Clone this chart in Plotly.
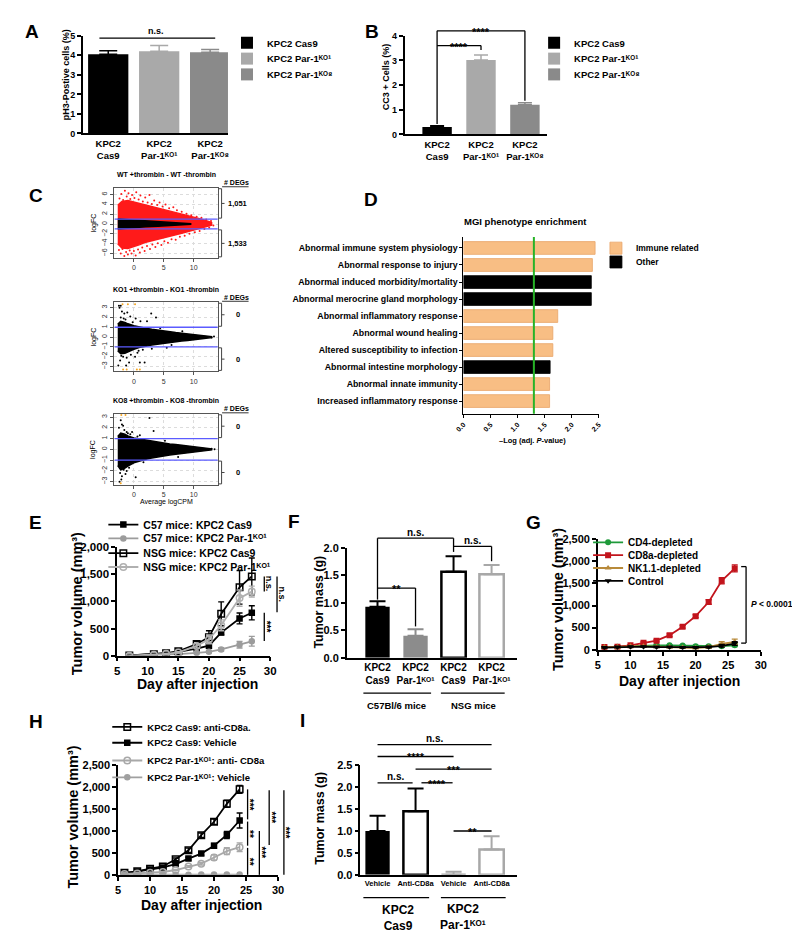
import plotly.graph_objects as go

W, H = 800, 937
FONT = "Liberation Sans, Arial, Helvetica, DejaVu Sans, sans-serif"
KO1 = "Par-1\u1d37\u1d3c\u00b9"
KO8 = "Par-1\u1d37\u1d3c\u2078"
MM3 = "Tumor volume (mm\u00b3)"

# ======================= DATA =======================
# Panel A / B
AB_ticktext = ["KPC2<br>Cas9", "KPC2<br>" + KO1, "KPC2<br>" + KO8]
AB_names = ["KPC2 Cas9", "KPC2 " + KO1, "KPC2 " + KO8]
AB_cats = [0, 1, 2]
A_vals = [4.05, 4.20, 4.15]
A_errs = [0.18, 0.30, 0.15]
B_vals = [0.30, 3.02, 1.20]
B_errs = [0.05, 0.20, 0.08]

# Panel C (MA plots)
C_titles = ["WT +thrombin - WT -thrombin", "KO1 +thrombin - KO1 -thrombin", "KO8 +thrombin - KO8 -thrombin"]
C_deg_up = ["1,051", "0", "0"]
C_deg_down = ["1,533", "0", "0"]
C_FC_THRESHOLD = 1.0
C1_red_x = [-2.7, -2, -1, 0, 1, 2, 3, 4, 5, 6, 7, 8, 9, 10, 11, 12, 13]
C1_red_up = [3.8, 4.6, 4.8, 4.5, 4.1, 3.8, 3.5, 3.2, 2.9, 2.6, 2.3, 2.0, 1.7, 1.4, 1.1, 0.7, 0.3]
C1_red_lo = [-4.0, -4.9, -5.0, -4.6, -4.2, -3.7, -3.4, -3.1, -2.8, -2.5, -2.2, -1.9, -1.6, -1.3, -1.0, -0.6, -0.25]
C1_core_x = [-2.7, -2, -1, 0, 2, 4, 6, 8, 9.5]
C1_core_up = [1.0, 0.95, 0.8, 0.7, 0.55, 0.45, 0.35, 0.2, 0.05]
C1_core_lo = [-1.0, -0.95, -0.85, -0.7, -0.55, -0.45, -0.35, -0.2, -0.05]
C1_pts_x = [-2.4, -2.1, -1.8, -1.5, -1.2, -0.9, -0.6, -0.3, 0.1, 0.4, 0.8, 1.1, 1.5, 1.9, 2.3, 2.6,
            3.0, 3.4, 3.9, 4.3, 4.8, 5.3, 5.9, 6.6, 7.2, 8.0, 8.8, 9.6, 10.5, 11.3, 12.1, 12.9,
            -2.5, -2.2, -1.9, -1.6, -1.3, -1.0, -0.7, -0.4, 0.0, 0.3, 0.7, 1.0, 1.4, 1.8, 2.2, 2.7,
            3.1, 3.6, 4.0, 4.6, 5.1, 5.7, 6.3, 7.0, 7.7, 8.5, 9.3, 10.2, 11.0, 11.8, 12.6, 13.3]
C1_pts_y = [5.2, 6.1, 4.9, 6.8, 5.6, 6.3, 5.1, 5.9, 5.3, 6.5, 5.0, 5.8, 4.6, 5.4, 4.4, 5.9,
            4.1, 4.8, 3.9, 4.4, 3.6, 4.0, 3.2, 3.4, 2.8, 2.5, 2.1, 1.8, 1.5, 1.3, 0.9, 0.6,
            -5.3, -6.0, -5.1, -6.5, -5.7, -6.2, -5.4, -6.0, -5.5, -6.4, -5.2, -5.8, -4.8, -5.5, -4.5, -5.1,
            -4.2, -4.7, -3.9, -4.3, -3.5, -3.8, -3.1, -3.2, -2.6, -2.4, -2.0, -1.7, -1.4, -1.0, -0.7, -0.3]
C2_x = [-2.7, -2.2, -1.5, -1, 0, 1, 2, 3, 4, 5, 6, 7, 8, 9, 10, 11, 12, 13]
C2_up = [1.3, 1.6, 1.5, 1.35, 1.15, 1.0, 0.9, 0.8, 0.7, 0.6, 0.52, 0.46, 0.4, 0.34, 0.28, 0.22, 0.14, 0.05]
C2_lo = [-1.4, -1.7, -1.65, -1.5, -1.25, -1.05, -0.95, -0.82, -0.72, -0.62, -0.55, -0.48, -0.41, -0.35,
         -0.28, -0.22, -0.14, -0.05]
C2_pts_x = [-2.4, -2.0, -1.6, -1.1, -0.6, -2.2, 0.3, 1.1, 2.2, 2.9, 3.7, -2.3, -1.8, -1.2, -0.5,
            0.2, -2.1, 1.0, 1.8, -0.8, 3.0, 5.5, 13.4, 13.0, -1.4, 0.8, -2.5, -2.2, -1.7, -0.2,
            0.6, 1.5, -2.6, -1.3, 4.4, 6.3, 8.1]
C2_pts_y = [3.0, 2.6, 2.4, 2.5, 2.1, 2.0, 1.9, 1.6, 1.6, 2.4, 2.0, -2.4, -2.0, -2.1, -1.8,
            -2.0, -1.9, -2.6, -2.6, -2.6, -1.2, -1.1, 0.05, -0.05, 1.8, -1.4, 3.2, 3.2, 1.9, 1.5,
            -1.6, -1.3, -2.9, -2.9, 0.9, -0.8, 0.6]
C2_or_x = [-1.9, -1.0, 0.2, -1.8, -1.2, 0.5, 1.0]
C2_or_y = [3.35, 3.35, 3.35, -3.3, -3.3, -3.3, -3.3]
C3_x = [-2.7, -2.2, -1.5, -1, 0, 1, 2, 3, 4, 5, 6, 7, 8, 9, 10, 11, 12, 13]
C3_up = [1.2, 1.5, 1.4, 1.25, 1.05, 0.95, 0.85, 0.75, 0.66, 0.58, 0.5, 0.44, 0.38, 0.32, 0.26, 0.2, 0.13, 0.05]
C3_lo = [-1.5, -1.9, -1.75, -1.55, -1.25, -1.05, -0.92, -0.8, -0.7, -0.6, -0.52, -0.46, -0.4, -0.33,
         -0.27, -0.2, -0.13, -0.05]
C3_pts_x = [-2.2, -2.0, -1.6, -1.2, -0.6, 2.6, 3.3, 1.0, -2.3, -2.0, -1.7, -1.2, -0.8, -2.4, 0.3,
            13.0, 13.5, -1.0, 0.6, -2.5, -1.8, -0.3, 1.6, -2.1, -1.4, 5.2, 7.4]
C3_pts_y = [2.7, 2.3, 1.8, 1.6, 1.4, 2.9, 1.7, 1.3, -2.2, -2.5, -1.9, -2.0, -1.7, -3.0, -2.6,
            0.05, 0.0, 1.5, 1.2, 2.0, 2.2, 1.6, -1.2, -2.8, -2.3, 0.8, -0.7]
C3_or_x = [-2.1, -1.4, -2.2]
C3_or_y = [3.2, 3.2, -3.15]

# Panel D
D_terms = ["Abnormal immune system physiology", "Abnormal response to injury",
           "Abnormal induced morbidity/mortality", "Abnormal merocrine gland morphology",
           "Abnormal inflammatory response", "Abnormal wound healing",
           "Altered susceptibility to infection", "Abnormal intestine morphology",
           "Abnormal innate immunity", "Increased inflammatory response"]
D_vals = [2.43, 2.38, 2.36, 2.36, 1.74, 1.65, 1.65, 1.60, 1.59, 1.59]
D_group = ["Immune related", "Immune related", "Other", "Other", "Immune related",
           "Immune related", "Immune related", "Other", "Immune related", "Immune related"]
D_THRESHOLD = 1.3

# Panel E
E_days = [7, 11, 13, 15, 18, 20, 22, 25, 27]
E_c57_cas9 = [5, 20, 40, 70, 130, 185, 425, 685, 790]
E_c57_cas9_err = [3, 5, 8, 10, 20, 30, 40, 100, 130]
E_c57_par1 = [0, 10, 20, 30, 50, 70, 115, 200, 265]
E_c57_par1_err = [2, 4, 6, 8, 12, 15, 30, 60, 90]
E_nsg_cas9 = [5, 25, 45, 80, 215, 340, 770, 1260, 1460]
E_nsg_cas9_err = [3, 6, 10, 15, 50, 120, 220, 310, 340]
E_nsg_par1 = [0, 15, 35, 60, 180, 300, 560, 1060, 1180]
E_nsg_par1_err = [2, 5, 8, 12, 40, 80, 100, 150, 100]
E_names = ["C57 mice: KPC2 Cas9", "C57 mice: KPC2 " + KO1,
           "NSG mice: KPC2 Cas9", "NSG mice: KPC2 " + KO1]

# Panel F
F_ticktext = ["KPC2<br>Cas9", "KPC2<br>" + KO1, "KPC2<br>Cas9", "KPC2<br>" + KO1]
F_vals = [0.93, 0.40, 1.57, 1.52]
F_errs = [0.10, 0.12, 0.28, 0.17]
F_groups = ["C57Bl/6 mice", "NSG mice"]

# Panel G
G_days = [6, 8, 10, 12, 14, 16, 18, 20, 22, 24, 26]
G_cd4 = [60, 70, 90, 100, 100, 100, 95, 80, 80, 80, 100]
G_cd4_err = [10, 10, 10, 15, 15, 15, 15, 15, 15, 20, 30]
G_cd8 = [60, 70, 100, 160, 205, 330, 520, 760, 1080, 1560, 1840]
G_cd8_err = [10, 10, 15, 20, 25, 30, 30, 30, 50, 70, 80]
G_nk = [60, 60, 80, 80, 70, 60, 50, 40, 60, 130, 180]
G_nk_err = [10, 10, 10, 10, 10, 10, 10, 10, 20, 50, 60]
G_ctrl = [50, 60, 70, 70, 60, 60, 50, 50, 60, 90, 140]
G_ctrl_err = [10, 10, 10, 10, 10, 10, 10, 10, 15, 30, 40]
G_names = ["CD4-depleted", "CD8a-depleted", "NK1.1-depleted", "Control"]

# Panel H
H_days = [6, 8, 10, 12, 14, 16, 18, 20, 22, 24]
H_cas9_cd8 = [45, 80, 140, 190, 355, 560, 905, 1210, 1620, 1950]
H_cas9_cd8_err = [10, 10, 15, 20, 30, 50, 50, 60, 80, 90]
H_cas9_veh = [40, 75, 120, 170, 245, 370, 485, 665, 910, 1240]
H_cas9_veh_err = [10, 10, 15, 20, 25, 30, 40, 50, 80, 170]
H_par1_cd8 = [20, 30, 45, 65, 110, 190, 255, 395, 540, 630]
H_par1_cd8_err = [5, 5, 10, 10, 15, 20, 30, 60, 80, 100]
H_par1_veh = [2, 2, 3, 3, 4, 4, 5, 5, 5, 6]
H_par1_veh_err = [1, 1, 1, 1, 1, 1, 1, 1, 1, 2]
H_names = ["KPC2 Cas9: anti-CD8a.", "KPC2 Cas9: Vehicle",
           "KPC2 " + KO1 + ": anti- CD8a", "KPC2 " + KO1 + ": Vehicle"]

# Panel I
I_ticktext = ["Vehicle", "Anti-CD8a", "Vehicle", "Anti-CD8a"]
I_vals = [1.00, 1.45, 0.00, 0.58]
I_errs = [0.35, 0.52, 0.07, 0.30]
I_groups = ["KPC2<br>Cas9", "KPC2<br>" + KO1]

# ======================= HELPERS =======================
fig = go.Figure()
shapes, annotations, axes, legends = [], [], {}, {}


def PX(x):
    return x / W


def PY(y):
    return 1 - y / H


def lin(d0, d1, p0, p1):
    return lambda v: p0 + (v - d0) * (p1 - p0) / (d1 - d0)


def seg(x0, y0, x1, y1, color="black", width=1.3):
    shapes.append(dict(type="line", xref="paper", yref="paper", x0=PX(x0), y0=PY(y0),
                       x1=PX(x1), y1=PY(y1), line=dict(color=color, width=width), layer="above"))


def txt(x, y, s, size=10, angle=0, xa="center", ya="middle", color="black", bold=True):
    annotations.append(dict(x=PX(x), y=PY(y), xref="paper", yref="paper", text=s, showarrow=False,
                            textangle=angle, xanchor=xa, yanchor=ya,
                            font=dict(size=size, color=color, family=FONT,
                                      weight="bold" if bold else "normal")))


def names(i):
    return ("x" if i == 1 else f"x{i}", "y" if i == 1 else f"y{i}")


def set_axes(i, xdom, ydom, xkw, ykw):
    xn, yn = names(i)
    axes["xaxis" if i == 1 else f"xaxis{i}"] = dict(domain=[PX(xdom[0]), PX(xdom[1])], anchor=yn, **xkw)
    axes["yaxis" if i == 1 else f"yaxis{i}"] = dict(domain=[PY(ydom[1]), PY(ydom[0])], anchor=xn, **ykw)


def gp_axis(size, **kw):
    d = dict(showline=True, linecolor="black", linewidth=1.5, ticks="outside", ticklen=4, tickwidth=1.5,
             tickcolor="black", showgrid=False, zeroline=False, fixedrange=True,
             tickfont=dict(family=FONT, size=size, color="black", weight="bold"))
    d.update(kw)
    return d


def ma_axis(**kw):
    d = dict(showline=True, mirror=True, linecolor="#555", linewidth=1, ticks="outside", ticklen=3,
             tickwidth=0.8, tickcolor="#555", showgrid=True, gridcolor="#dcdcdc", griddash="dot",
             gridwidth=0.8, zeroline=False, fixedrange=True,
             tickfont=dict(family=FONT, size=7, color="#333", weight="normal"))
    d.update(kw)
    return d


def new_legend(x_text, center, size):
    k = len(legends) + 1
    key = "legend" if k == 1 else f"legend{k}"
    legends[key] = dict(x=PX(x_text - 40), y=PY(center - 14.5), xanchor="left", yanchor="top",
                        bgcolor="rgba(0,0,0,0)", borderwidth=0, tracegroupgap=0, itemwidth=30,
                        font=dict(family=FONT, size=size, color="black", weight="bold"))
    return key


# ======================= PANEL A =======================
AB_colors = ["#000000", "#a9a9a9", "#8a8a8a"]
AB_leg_rows = [29, 45, 61]
for i in AB_cats:
    fig.add_trace(go.Bar(x=[i], y=[A_vals[i]], width=0.79, name=AB_names[i],
                         legend=new_legend(254, AB_leg_rows[i], 9.5),
                         marker=dict(color=AB_colors[i], line=dict(width=0)),
                         error_y=dict(type="data", symmetric=False, array=[A_errs[i]], arrayminus=[0],
                                      color=AB_colors[i], thickness=1.5, width=9),
                         xaxis="x", yaxis="y"))
set_axes(1, (67, 215), (22, 121),
         gp_axis(9.5, range=[-0.5, 2.35], tickvals=AB_cats, ticktext=AB_ticktext, ticks=""),
         gp_axis(9, range=[0, 5], dtick=1, tick0=0))
vyA = lin(0, 5, 121, 22)
seg(84, vyA(4.88), 202, vyA(4.88))
txt(142, vyA(4.88) - 7, "n.s.", 9)
txt(50, 62, "pH3-Postive cells (%)", 9, -90)

# ======================= PANEL B =======================
for i in AB_cats:
    fig.add_trace(go.Bar(x=[i], y=[B_vals[i]], width=0.67, name=AB_names[i],
                         legend=new_legend(567, AB_leg_rows[i], 9.5),
                         marker=dict(color=AB_colors[i], line=dict(width=0)),
                         error_y=dict(type="data", symmetric=False, array=[B_errs[i]], arrayminus=[0],
                                      color=AB_colors[i], thickness=1.5, width=7),
                         xaxis="x2", yaxis="y2"))
set_axes(2, (395, 540), (22, 122),
         gp_axis(9.5, range=[-0.74, 2.5], tickvals=AB_cats, ticktext=AB_ticktext, ticks=""),
         gp_axis(9, range=[0, 4], dtick=1, tick0=0))
vyB = lin(0, 4, 122, 22)
cxB = lin(-0.74, 2.5, 395, 540)
seg(cxB(0), vyB(0.42), cxB(0), vyB(4.2))
seg(cxB(0), vyB(3.6), cxB(1), vyB(3.6))
seg(cxB(1), vyB(3.6), cxB(1), vyB(3.42))
seg(cxB(0), vyB(4.2), cxB(2), vyB(4.2))
seg(cxB(2), vyB(4.2), cxB(2), vyB(1.36))
txt((cxB(0) + cxB(1)) / 2, vyB(3.6) + 1, "****", 11)
txt((cxB(0) + cxB(2)) / 2, vyB(4.2) + 1, "****", 11)
txt(376, 64, "CC3 + Cells (%)", 9, -90)

# ======================= PANEL C =======================
C_panels = [
    dict(top=176, bottom=247, yr=[-6.9, 7.4], yt=[-6, -4, -2, 0, 2, 4, 6]),
    dict(top=292, bottom=362, yr=[-3.5, 3.55], yt=[-3, -2, -1, 0, 1, 2, 3]),
    dict(top=405, bottom=477, yr=[-3.3, 3.3], yt=[-3, -2, -1, 0, 1, 2, 3]),
]
C_XR = [-3.3, 14.1]


def env(xs, up, lo):
    return xs + xs[::-1], up + lo[::-1]


C_layers = [
    [("#ff1a1a", C1_red_x, C1_red_up, C1_red_lo), ("#000000", C1_core_x, C1_core_up, C1_core_lo)],
    [("#000000", C2_x, C2_up, C2_lo)],
    [("#000000", C3_x, C3_up, C3_lo)],
]
C_points = [
    [("#ff1a1a", C1_pts_x, C1_pts_y)],
    [("#000000", C2_pts_x, C2_pts_y), ("#f5a623", C2_or_x, C2_or_y)],
    [("#000000", C3_pts_x, C3_pts_y), ("#f5a623", C3_or_x, C3_or_y)],
]
for p, cfg in enumerate(C_panels):
    ai = 3 + p
    xn, yn = names(ai)
    for col, xs, up, lo in C_layers[p]:
        ex, ey = env(xs, up, lo)
        fig.add_trace(go.Scatter(x=ex, y=ey, mode="lines", fill="toself", fillcolor=col,
                                 line=dict(color=col, width=1.5),
                                 showlegend=False, hoverinfo="skip", xaxis=xn, yaxis=yn))
    for col, xs, ys in C_points[p]:
        fig.add_trace(go.Scatter(x=xs, y=ys, mode="markers", marker=dict(color=col, size=2),
                                 showlegend=False, hoverinfo="skip", xaxis=xn, yaxis=yn))
    set_axes(ai, (99, 205), (cfg["top"], cfg["bottom"]),
             ma_axis(range=C_XR, tickvals=[0, 5, 10]),
             ma_axis(range=cfg["yr"], tickvals=cfg["yt"], tickangle=-90))
    vy = lin(cfg["yr"][0], cfg["yr"][1], cfg["bottom"], cfg["top"])
    for s in (1, -1):
        seg(99.5, vy(s * C_FC_THRESHOLD), 204.5, vy(s * C_FC_THRESHOLD), "#5b5bff", 1.3)
    t, b = cfg["top"] + 1, cfg["bottom"] - 1
    u, l = vy(C_FC_THRESHOLD) - 1, vy(-C_FC_THRESHOLD) + 1
    for y0, y1, lab in ((t, u, C_deg_up[p]), (l, b, C_deg_down[p])):
        seg(205.5, y0, 208.5, y0, "#444", 1)
        seg(208.5, y0, 208.5, y1, "#444", 1)
        seg(205.5, y1, 208.5, y1, "#444", 1)
        seg(208.5, (y0 + y1) / 2, 211.5, (y0 + y1) / 2, "#444", 1)
        if lab == "0":
            txt(221, (y0 + y1) / 2, lab, 7.5, xa="left")
        else:
            txt(213.5, (y0 + y1) / 2, lab, 7.5, xa="left")
    txt(152, cfg["top"] - 13, C_titles[p], 7)
    txt(209, cfg["top"] - 5, "# DEGs", 7, xa="left")
    seg(209, cfg["top"] - 1, 236, cfg["top"] - 1, "black", 0.8)
    txt(78, (cfg["top"] + cfg["bottom"]) / 2, "logFC", 7, -90, bold=False)
txt(152, 494, "Average logCPM", 7, bold=False)

# ======================= PANEL D =======================
D_colors = {"Immune related": "#f8be84", "Other": "#000000"}
D_lines = {"Immune related": "#e8a468", "Other": "#000000"}
D_leg_rows = {"Immune related": 237, "Other": 251}
for g in ["Immune related", "Other"]:
    idx = [i for i, gg in enumerate(D_group) if gg == g]
    fig.add_trace(go.Bar(x=[D_vals[i] for i in idx], y=idx, orientation="h", width=0.75, name=g,
                         legend=new_legend(630, D_leg_rows[g], 8.5),
                         marker=dict(color=D_colors[g], line=dict(color=D_lines[g], width=0.8)),
                         xaxis="x6", yaxis="y6"))
set_axes(6, (455, 593), (226, 405),
         gp_axis(7, range=[0, 2.5], dtick=0.5, tick0=0, tickformat=".1f", tickangle=-45,
                 linewidth=1.2, ticklen=3, tickwidth=1.2),
         gp_axis(8.8, range=[9.75, -0.64], tickvals=list(range(10)), ticktext=D_terms,
                 linewidth=1.2, ticklen=3, tickwidth=1.2))
shapes.append(dict(type="line", xref="x6", yref="y6 domain", x0=D_THRESHOLD, x1=D_THRESHOLD, y0=0, y1=1,
                   line=dict(color="#27b327", width=2), layer="above"))
txt(518, 210, "MGI phenotype enrichment", 9.5)
txt(525, 432, "\u2013Log (adj. <i>P</i>-value)", 7.5)

# ======================= PANEL E =======================
E_series = [
    (E_c57_cas9, E_c57_cas9_err, "#000000", "square", "#000000", 5),
    (E_c57_par1, E_c57_par1_err, "#9c9c9c", "circle", "#9c9c9c", 5),
    (E_nsg_cas9, E_nsg_cas9_err, "#000000", "square-open", "#000000", 6.5),
    (E_nsg_par1, E_nsg_par1_err, "#b0b0b0", "circle-open", "#b0b0b0", 6.5),
]
E_leg_rows = [517, 531, 546, 560]
for (vals, errs, col, sym, mcol, ms), nm, row in zip(E_series, E_names, E_leg_rows):
    fig.add_trace(go.Scatter(x=E_days, y=vals, mode="lines+markers", name=nm,
                             legend=new_legend(128, row, 10.5),
                             line=dict(color=col, width=1.8),
                             marker=dict(symbol=sym, size=ms, color=mcol, line=dict(color=mcol, width=1.5)),
                             error_y=dict(type="data", array=errs, color=col, thickness=1.4, width=3),
                             xaxis="x7", yaxis="y7"))
set_axes(7, (102, 258), (540, 650),
         gp_axis(11.5, range=[5, 30], dtick=5, tick0=5),
         gp_axis(11.5, range=[0, 2000], dtick=500, tick0=0, tickformat=","))
vyE = lin(0, 2000, 650, 540)
seg(252, vyE(1460), 252, vyE(1180))
txt(257, (vyE(1460) + vyE(1180)) / 2, "n.s.", 9, 90)
seg(265, vyE(1460), 265, vyE(800))
txt(270, (vyE(1460) + vyE(800)) / 2, "n.s.", 9, 90)
seg(252, vyE(790), 252, vyE(270))
txt(254, (vyE(790) + vyE(270)) / 2, "***", 10, 90)
txt(62, 597, MM3, 14.5, -90)
txt(184, 679, "Day after injection", 14)

# ======================= PANEL F =======================
F_fill = ["#000000", "#8c8c8c", "#ffffff", "#ffffff"]
F_line = ["#000000", "#8c8c8c", "#000000", "#a8a8a8"]
F_lw = [0, 0, 2.5, 2.5]
for i in range(4):
    fig.add_trace(go.Bar(x=[i], y=[F_vals[i]], width=0.64, showlegend=False,
                         marker=dict(color=F_fill[i], line=dict(color=F_line[i], width=F_lw[i])),
                         error_y=dict(type="data", symmetric=False, array=[F_errs[i]], arrayminus=[0],
                                      color=F_line[i], thickness=2, width=8),
                         xaxis="x8", yaxis="y8"))
set_axes(8, (336, 510), (541, 652),
         gp_axis(10, range=[-0.81, 3.68], tickvals=[0, 1, 2, 3], ticktext=F_ticktext, ticks=""),
         gp_axis(11, range=[0, 2.0], dtick=0.5, tick0=0, tickformat=".1f"))
vyF = lin(0, 2.0, 652, 541)
cxF = lin(-0.81, 3.68, 336, 510)
seg(cxF(0), vyF(1.06), cxF(0), vyF(2.18))
seg(cxF(0), vyF(1.27), cxF(1), vyF(1.27))
seg(cxF(1), vyF(1.27), cxF(1), vyF(0.57))
seg(cxF(0), vyF(2.18), cxF(2), vyF(2.18))
seg(cxF(2), vyF(2.18), cxF(2), vyF(1.93))
seg(cxF(2), vyF(2.03), cxF(3), vyF(2.03))
seg(cxF(3), vyF(2.03), cxF(3), vyF(1.76))
txt((cxF(0) + cxF(1)) / 2, vyF(1.27) + 1, "**", 11)
txt((cxF(0) + cxF(2)) / 2, vyF(2.18) - 6, "n.s.", 10)
txt((cxF(2) + cxF(3)) / 2, vyF(2.03) - 6, "n.s.", 10)
seg(353, 688, 422, 688)
seg(432, 688, 497, 688)
txt(387, 700, F_groups[0], 9.5)
txt(465, 700, F_groups[1], 9.5)
txt(308, 596, "Tumor mass (g)", 12.5, -90)

# ======================= PANEL G =======================
G_series = [
    (G_cd4, G_cd4_err, "#1e9a3a", "circle"),
    (G_cd8, G_cd8_err, "#c2141c", "square"),
    (G_nk, G_nk_err, "#b88a3a", "triangle-up"),
    (G_ctrl, G_ctrl_err, "#000000", "triangle-down"),
]
G_leg_rows = [535, 548, 561, 574]
for (vals, errs, col, sym), nm, row in zip(G_series, G_names, G_leg_rows):
    fig.add_trace(go.Scatter(x=G_days, y=vals, mode="lines+markers", name=nm,
                             legend=new_legend(622, row, 10),
                             line=dict(color=col, width=1.8), marker=dict(symbol=sym, size=6, color=col),
                             error_y=dict(type="data", array=errs, color=col, thickness=1.4, width=3),
                             xaxis="x9", yaxis="y9"))
set_axes(9, (592, 758), (532, 644),
         gp_axis(11, range=[5, 30], dtick=5, tick0=5),
         gp_axis(11, range=[0, 2500], dtick=500, tick0=0, tickformat=","))
vyG = lin(0, 2500, 644, 532)
seg(738, vyG(1880), 743, vyG(1880))
seg(743, vyG(1880), 743, vyG(150))
seg(738, vyG(150), 743, vyG(150))
txt(746, 598, "<i>P</i> < 0.0001", 8.5, xa="left")
txt(552, 593, MM3, 14.5, -90)
txt(675, 676, "Day after injection", 14)

# ======================= PANEL H =======================
H_series = [
    (H_cas9_cd8, H_cas9_cd8_err, "#000000", "square-open", 6.5),
    (H_cas9_veh, H_cas9_veh_err, "#000000", "square", 5),
    (H_par1_cd8, H_par1_cd8_err, "#a8a8a8", "circle-open", 6.5),
    (H_par1_veh, H_par1_veh_err, "#a0a0a0", "circle", 5),
]
H_leg_rows = [722, 738, 756, 773]
for (vals, errs, col, sym, ms), nm, row in zip(H_series, H_names, H_leg_rows):
    fig.add_trace(go.Scatter(x=H_days, y=vals, mode="lines+markers", name=nm,
                             legend=new_legend(132, row, 9.5),
                             line=dict(color=col, width=1.8),
                             marker=dict(symbol=sym, size=ms, color=col, line=dict(color=col, width=1.5)),
                             error_y=dict(type="data", array=errs, color=col, thickness=1.4, width=3),
                             xaxis="x10", yaxis="y10"))
set_axes(10, (103, 266), (761, 872),
         gp_axis(11, range=[5, 30], dtick=5, tick0=5),
         gp_axis(11, range=[0, 2500], dtick=500, tick0=0, tickformat=","))
vyH = lin(0, 2500, 872, 761)
H_sig = [  # (x px, top value, bottom value, label)
    (235, 1950, 1265, "***"),
    (235, 1215, 665, "**"),
    (235, 615, 0, "**"),
    (247, 1000, 0, "***"),
    (257, 1930, 680, "***"),
    (272, 1930, 0, "***"),
]
for x, v0, v1, lab in H_sig:
    seg(x, vyH(v0), x, vyH(v1))
    txt(x + 2, (vyH(v0) + vyH(v1)) / 2, lab, 10, 90)
txt(57, 813, MM3, 14.5, -90)
txt(188, 903, "Day after injection", 14)

# ======================= PANEL I =======================
I_fill = ["#000000", "#ffffff", "#ffffff", "#ffffff"]
I_line = ["#000000", "#000000", "#a8a8a8", "#a8a8a8"]
I_lw = [0, 2.5, 2.5, 2.5]
for i in range(4):
    fig.add_trace(go.Bar(x=[i], y=[I_vals[i]], width=0.64, showlegend=False,
                         marker=dict(color=I_fill[i], line=dict(color=I_line[i], width=I_lw[i])),
                         error_y=dict(type="data", symmetric=False, array=[I_errs[i]], arrayminus=[0],
                                      color=I_line[i], thickness=2, width=8),
                         xaxis="x11", yaxis="y11"))
set_axes(11, (350, 510), (761, 872),
         gp_axis(7.5, range=[-0.45, 3.68], tickvals=[0, 1, 2, 3], ticktext=I_ticktext, ticks=""),
         gp_axis(11, range=[0, 2.5], dtick=0.5, tick0=0, tickformat=".1f"))
vyI = lin(0, 2.5, 872, 761)
cxI = lin(-0.45, 3.68, 350, 510)
I_sig = [  # (x0, x1, value, label)
    (cxI(0), cxI(3), 2.97, "n.s."),
    (cxI(0), cxI(2), 2.70, "****"),
    (cxI(1), cxI(3), 2.41, "***"),
    (cxI(0), cxI(1) - 3, 2.10, "n.s."),
    (cxI(1) + 6, cxI(2) - 1, 2.10, "****"),
    (cxI(2), cxI(3), 1.00, "**"),
]
for x0, x1, v, lab in I_sig:
    seg(x0, vyI(v), x1, vyI(v))
    if lab == "n.s.":
        txt((x0 + x1) / 2, vyI(v) - 6, lab, 10)
    else:
        txt((x0 + x1) / 2, vyI(v) + 1, lab, 11)
seg(353, 895, 420, 895)
seg(432, 895, 498, 895)
txt(388, 916, I_groups[0], 12)
txt(455, 915, I_groups[1], 12)
txt(308, 815, "Tumor mass (g)", 12.5, -90)

# ======================= PANEL LETTERS =======================
for lab, x, y in [("A", 15, 18), ("B", 362, 18), ("C", 19, 184), ("D", 361, 188), ("E", 19, 515),
                  ("F", 282, 514), ("G", 526, 515), ("H", 19, 717), ("I", 291, 716)]:
    txt(x, y, lab, 19)

# ======================= LAYOUT =======================
fig.update_layout(
    width=W, height=H, autosize=False, margin=dict(l=0, r=0, t=0, b=0),
    paper_bgcolor="white", plot_bgcolor="white", barmode="overlay", hovermode=False,
    font=dict(family=FONT, size=10, color="black", weight="bold"),
    shapes=shapes, annotations=annotations,
    **legends, **axes,
)
fig.write_html("out.html")
